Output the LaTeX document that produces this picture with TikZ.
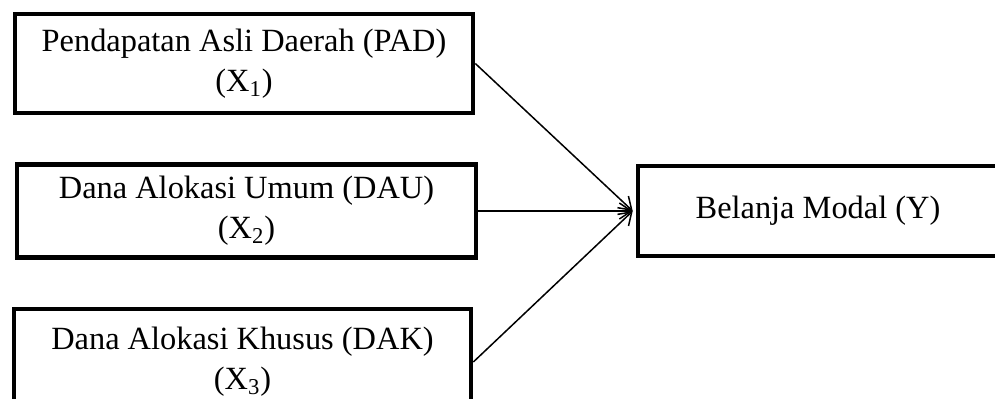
\documentclass[tikz,border=0pt]{standalone}
\usepackage{fontspec}
\setmainfont{Liberation Serif}
\usetikzlibrary{arrows.meta}
\tikzset{
  var/.style={draw, line width=2.3pt, rectangle, align=center, inner sep=0pt,
    font=\fontsize{16.2}{20}\selectfont},
  link/.style={line width=0.75pt, -{Straight Barb[length=6pt,width=8pt]}}
}
\begin{document}
\begin{tikzpicture}[x=0.5pt, y=-0.5pt]
  \useasboundingbox (0,0) rectangle (995,398);
  \clip (0,0) rectangle (995,398);
  \node[var, minimum width=229pt, minimum height=49.5pt] (x1) at (244,63.5)
    {Pendapatan Asli Daerah (PAD)\\(X\textsubscript{1})};
  \node[var, minimum width=229.5pt, minimum height=46.5pt] (x2) at (246.5,211)
    {Dana Alokasi Umum (DAU)\\(X\textsubscript{2})};
  \node[var, minimum width=228.5pt, minimum height=53pt] (x3) at (242.5,362)
    {Dana Alokasi Khusus (DAK)\\(X\textsubscript{3})};
  \node[var, minimum width=180pt, minimum height=45pt] (y) at (818,211)
    {Belanja Modal (Y)};
  \coordinate (tip) at ([xshift=-1.5pt]y.west);
  \draw[link] (x1.east) -- (tip);
  \draw[link] (x2.east) -- (tip);
  \draw[link] (x3.east) -- (tip);
\end{tikzpicture}
\end{document}
